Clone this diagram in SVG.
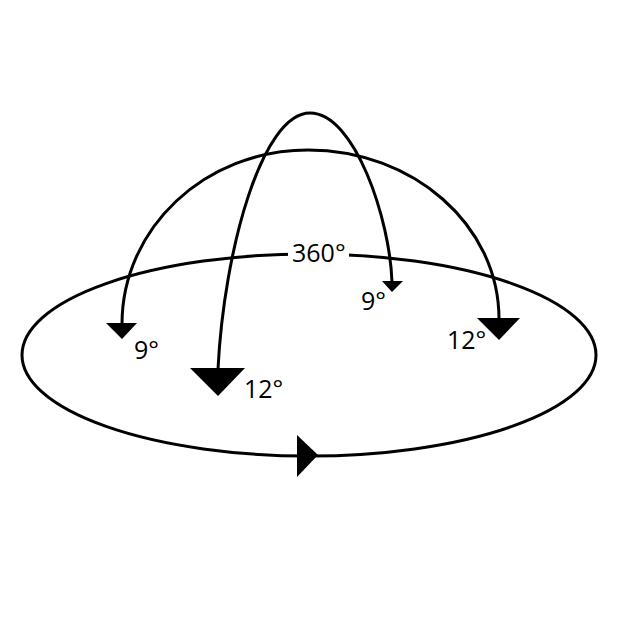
<svg xmlns="http://www.w3.org/2000/svg" width="620" height="620" viewBox="0 0 620 620">
  <style>
    .ln { fill: none; stroke: #000; stroke-width: 3; }
    .hd { fill: #000; stroke: none; }
    .lb { font-family: "Open Sans", "DejaVu Sans", sans-serif; font-size: 25px; fill: #000; }
  </style>
  <rect width="620" height="620" fill="#fff"/>
  <g id="connectors">
    <ellipse id="horizon" class="ln" cx="309" cy="355" rx="287" ry="101"/>
    <path id="wide-arch" class="ln" d="M122,324 C122,228 205,150 308,150 C413,150 499,225 499,319"/>
    <path id="narrow-arch" class="ln" d="M218,369 C224,250 262,113 310,113 C355,113 390,220 392,282"/>
    <polygon class="hd" points="297,435 297,477 318,455"/>
    <polygon class="hd" points="106,323 137,323 122,339"/>
    <polygon class="hd" points="190,368 245,368 218,396"/>
    <polygon class="hd" points="382,281 403,281 392,292"/>
    <polygon class="hd" points="477,318 520,318 499,340"/>
  </g>
  <g id="label-360">
    <rect x="288" y="246" width="61" height="18" fill="#fff"/>
    <text class="lb" x="292" y="262">360°</text>
  </g>
  <g id="label-9-left"><text class="lb" x="134" y="359">9°</text></g>
  <g id="label-12-left"><text class="lb" x="244" y="398">12°</text></g>
  <g id="label-9-right"><text class="lb" x="361" y="310">9°</text></g>
  <g id="label-12-right"><text class="lb" x="447" y="349">12°</text></g>
</svg>
